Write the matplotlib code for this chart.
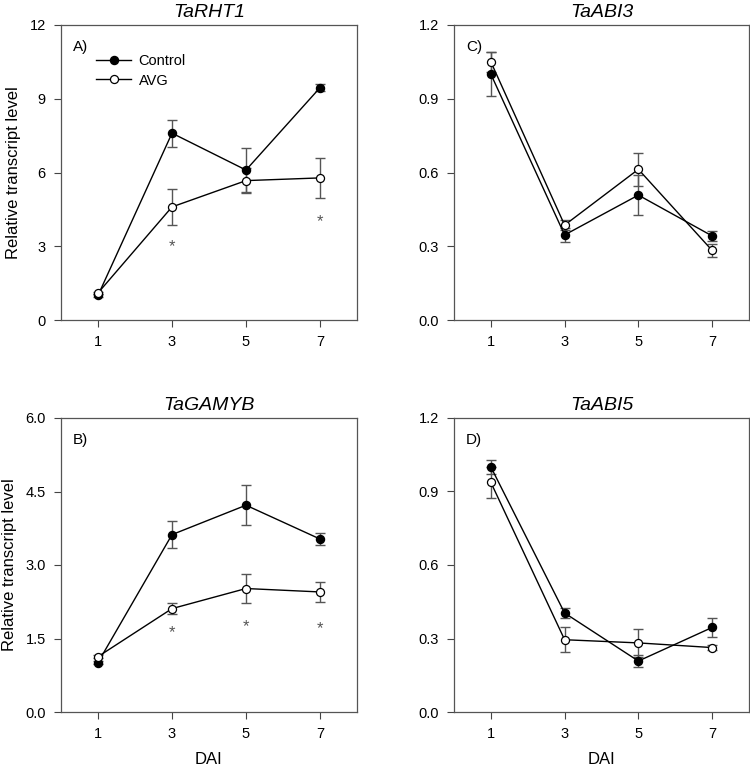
import matplotlib.pyplot as plt

plt.rcParams['font.family'] = ['Liberation Sans', 'DejaVu Sans']

days = [1, 3, 5, 7]

# A) TaRHT1
rht1_ctrl = [1.0, 7.6, 6.1, 9.45]
rht1_ctrl_err = [0.05, 0.55, 0.9, 0.15]
rht1_avg = [1.1, 4.6, 5.67, 5.78]
rht1_avg_err = [0.05, 0.72, 0.5, 0.82]
rht1_star_x = [3, 7]
rht1_star_y = [3.0, 4.0]

# B) TaGAMYB
gamyb_ctrl = [1.01, 3.62, 4.22, 3.53]
gamyb_ctrl_err = [0.03, 0.28, 0.41, 0.13]
gamyb_avg = [1.13, 2.11, 2.52, 2.45]
gamyb_avg_err = [0.03, 0.11, 0.3, 0.2]
gamyb_star_x = [3, 5, 7]
gamyb_star_y = [1.61, 1.75, 1.71]

# C) TaABI3
abi3_ctrl = [1.0, 0.346, 0.508, 0.342]
abi3_ctrl_err = [0.09, 0.027, 0.08, 0.02]
abi3_avg = [1.05, 0.386, 0.613, 0.283]
abi3_avg_err = [0.04, 0.02, 0.068, 0.028]

# D) TaABI5
abi5_ctrl = [1.0, 0.404, 0.208, 0.345]
abi5_ctrl_err = [0.03, 0.02, 0.026, 0.037]
abi5_avg = [0.937, 0.295, 0.282, 0.263]
abi5_avg_err = [0.065, 0.052, 0.057, 0.01]

fig = plt.figure(figsize=(7.5, 7.7), dpi=100)
W, H = 750, 770
boxes = {
    'A': (61, 25, 296, 295),
    'C': (454, 25, 295, 295),
    'B': (61, 418, 296, 294),
    'D': (454, 418, 295, 294),
}

panels = [
    ('A', 'TaRHT1', rht1_ctrl, rht1_ctrl_err, rht1_avg, rht1_avg_err,
     (0, 12), [0, 3, 6, 9, 12], '{:.0f}', rht1_star_x, rht1_star_y),
    ('C', 'TaABI3', abi3_ctrl, abi3_ctrl_err, abi3_avg, abi3_avg_err,
     (0, 1.2), [0, 0.3, 0.6, 0.9, 1.2], '{:.1f}', [], []),
    ('B', 'TaGAMYB', gamyb_ctrl, gamyb_ctrl_err, gamyb_avg, gamyb_avg_err,
     (0, 6), [0, 1.5, 3.0, 4.5, 6.0], '{:.1f}', gamyb_star_x, gamyb_star_y),
    ('D', 'TaABI5', abi5_ctrl, abi5_ctrl_err, abi5_avg, abi5_avg_err,
     (0, 1.2), [0, 0.3, 0.6, 0.9, 1.2], '{:.1f}', [], []),
]

ecol = '#555555'
for key, title, c, ce, a, ae, ylim, yt, fmt, sx, sy in panels:
    x0, y0, w, h = boxes[key]
    ax = fig.add_axes([x0 / W, 1 - (y0 + h) / H, w / W, h / H])
    ax.errorbar(days, c, yerr=ce, fmt='none', ecolor=ecol, elinewidth=1,
                capsize=3.5, capthick=1, zorder=1)
    ax.errorbar(days, a, yerr=ae, fmt='none', ecolor=ecol, elinewidth=1,
                capsize=3.5, capthick=1, zorder=1)
    ax.plot(days, c, '-o', color='black', lw=1, ms=5.8, mfc='black',
            mec='black', label='Control', zorder=3)
    ax.plot(days, a, '-o', color='black', lw=1, ms=5.8, mfc='white',
            mec='black', mew=0.9, label='AVG', zorder=3)
    for xs, ys in zip(sx, sy):
        ax.text(xs, ys, '*', ha='center', va='center', fontsize=12,
                color='#555555')
    ax.set_xlim(0, 8)
    ax.set_ylim(*ylim)
    ax.set_xticks(days)
    ax.set_yticks(yt)
    ax.set_yticklabels([fmt.format(v) for v in yt])
    ax.tick_params(direction='out', length=5, width=0.8, labelsize=10.5,
                   color='#444444', pad=6)
    for s in ax.spines.values():
        s.set_color('#555555')
        s.set_linewidth(0.9)
    ax.set_title(title, fontstyle='italic', fontsize=14, pad=6)
    ax.text(0.04, 0.95, key + ')', transform=ax.transAxes, fontsize=11,
            ha='left', va='top')
    if key in ('A', 'B'):
        ax.set_ylabel('Relative transcript level', fontsize=12, labelpad=6)
    if key in ('B', 'D'):
        ax.set_xlabel('DAI', fontsize=12, labelpad=8)
    if key == 'A':
        ax.legend(loc='upper left', bbox_to_anchor=(0.1, 0.92), frameon=False,
                  fontsize=10.5, handlelength=2.4, handletextpad=0.5,
                  labelspacing=0.35, borderaxespad=0)

fig.savefig('out.png', dpi=100)
